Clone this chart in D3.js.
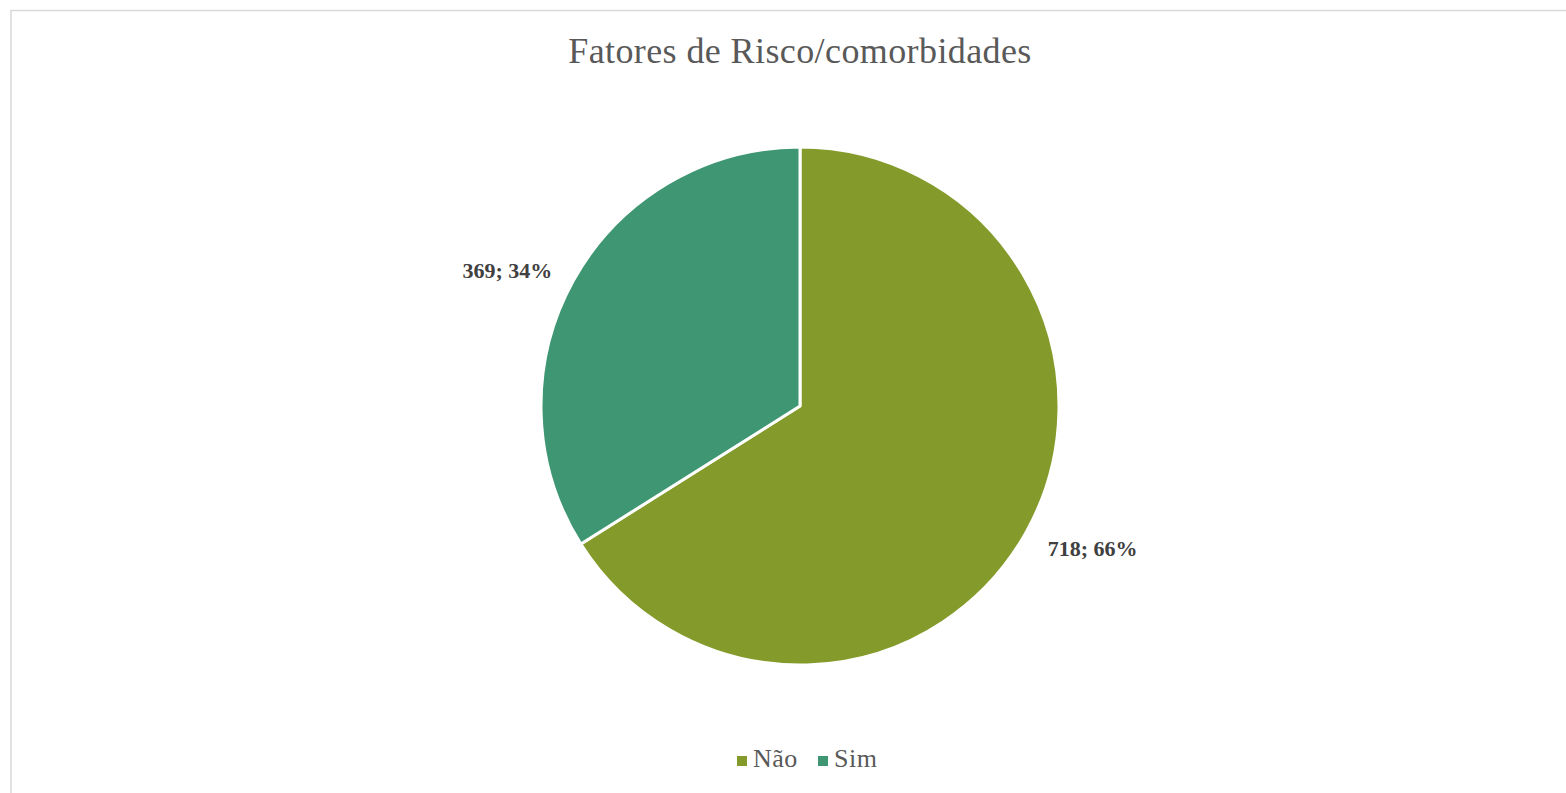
<!DOCTYPE html>
<html>
<head>
<meta charset="utf-8">
<script src="https://cdn.jsdelivr.net/npm/d3@7"></script>
<style>
  html, body { margin: 0; padding: 0; background: #fff; }
  svg { display: block; }
</style>
</head>
<body>
<svg width="1566" height="793"></svg>
<script>
const categories = ['Não', 'Sim'];
const values = [718, 369];
const colors = ['#849B2C', '#3E9672'];
const title = 'Fatores de Risco/comorbidades';

const svg = d3.select('svg');
const width = +svg.attr('width');
const height = +svg.attr('height');
const serif = '"Liberation Serif", "DejaVu Serif", serif';

// chart frame, only left and top edges fall inside the picture
svg.append('rect')
    .attr('x', 11)
    .attr('y', 10.5)
    .attr('width', width + 20)
    .attr('height', height + 20)
    .attr('fill', '#fff')
    .attr('stroke', '#d9d9d9')
    .attr('stroke-width', 1.5);

svg.append('text')
    .attr('x', 800)
    .attr('y', 63)
    .attr('text-anchor', 'middle')
    .attr('font-family', serif)
    .attr('font-size', 36)
    .attr('letter-spacing', 0.4)
    .attr('fill', '#595959')
    .text(title);

const cx = 800, cy = 406, radius = 259;
const total = d3.sum(values);
const color = d3.scaleOrdinal().domain(categories).range(colors);

const pie = d3.pie().sort(null).value((d) => d.value);
const data = pie(categories.map((c, i) => ({name: c, value: values[i]})));

const arc = d3.arc().innerRadius(0).outerRadius(radius);
const labelArc = d3.arc().innerRadius(283).outerRadius(283);

const g = svg.append('g').attr('transform', `translate(${cx},${cy})`);

g.selectAll('path')
    .data(data)
    .enter().append('path')
    .attr('d', arc)
    .attr('fill', (d) => color(d.data.name))
    .attr('stroke', '#fff')
    .attr('stroke-width', 3)
    .attr('stroke-linejoin', 'round');

g.selectAll('text.label')
    .data(data)
    .enter().append('text')
    .attr('class', 'label')
    .attr('transform', (d) => `translate(${labelArc.centroid(d)})`)
    .attr('text-anchor', (d) => ((d.startAngle + d.endAngle) / 2 > Math.PI ? 'end' : 'start'))
    .attr('dy', (d) => ((d.startAngle + d.endAngle) / 2 > Math.PI ? '0.4em' : '0.6em'))
    .attr('font-family', serif)
    .attr('font-weight', 'bold')
    .attr('font-size', 22)
    .attr('fill', '#404040')
    .text((d) => `${d.data.value}; ${Math.round(d.data.value / total * 100)}%`);

// legend
const legend = svg.append('g').attr('transform', 'translate(737,767)');
const item = legend.selectAll('g')
    .data(categories)
    .enter().append('g')
    .attr('transform', (d, i) => `translate(${i * 81},0)`);

item.append('rect')
    .attr('x', 0)
    .attr('y', -11)
    .attr('width', 10)
    .attr('height', 10)
    .attr('fill', (d) => color(d));

item.append('text')
    .attr('x', 16)
    .attr('y', 0)
    .attr('font-family', serif)
    .attr('font-size', 26)
    .attr('letter-spacing', 0.5)
    .attr('fill', '#595959')
    .text((d) => d);
</script>
</body>
</html>
